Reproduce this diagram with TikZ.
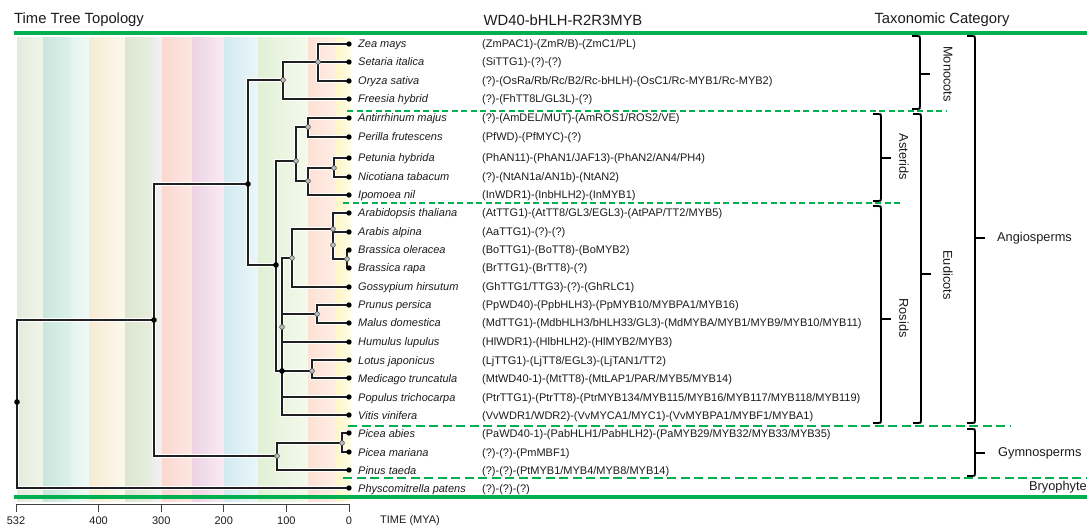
\documentclass[tikz,border=0pt]{standalone}
\usepackage{fontspec}
\setmainfont{Liberation Sans}
\definecolor{gr}{RGB}{0,176,80}
\definecolor{txt}{RGB}{28,28,28}
\definecolor{s1a}{HTML}{E4EADB}\definecolor{s1b}{HTML}{F1F5EA}
\definecolor{s2a}{HTML}{C8E6DC}\definecolor{s2b}{HTML}{DDF1EA}
\definecolor{s3a}{HTML}{E2F4EE}\definecolor{s3b}{HTML}{F0FAF6}
\definecolor{s4a}{HTML}{F6EBD3}\definecolor{s4b}{HTML}{FBF8EC}
\definecolor{s5a}{HTML}{DCE5D2}\definecolor{s5b}{HTML}{E8EEDF}
\definecolor{s6a}{HTML}{ECEDEA}\definecolor{s6b}{HTML}{F2F2F0}
\definecolor{s7a}{HTML}{FCD7D0}\definecolor{s7b}{HTML}{FDE7E2}
\definecolor{s8a}{HTML}{EDD3E3}\definecolor{s8b}{HTML}{F8EBF3}
\definecolor{s9a}{HTML}{D3EAF0}\definecolor{s9b}{HTML}{EBF6F9}
\definecolor{s10a}{HTML}{E1F0D5}\definecolor{s10b}{HTML}{ECF6E3}
\definecolor{s11a}{HTML}{EBF5E2}\definecolor{s11b}{HTML}{F4FAEC}
\definecolor{s12a}{HTML}{FDE1D4}\definecolor{s12b}{HTML}{FEEDE4}
\definecolor{s13a}{HTML}{FCF6C6}\definecolor{s13b}{HTML}{FEFADD}
\definecolor{s14a}{HTML}{FEFDE8}
\newcommand\taxrow[4]{%
  \coordinate (t#1) at (349,#2);
  \node[sp] (s#1) at (358,#2+4) {#3};
  \node[gn] (g#1) at (482,#2+4) {#4};}
\newcommand\tbrace[4]{%
  \draw[brc] (#1-8,#2) -- (#1-3,#2) .. controls (#1,#2) .. (#1,#2+3) -- (#1,#3-3) .. controls (#1,#3) .. (#1-3,#3) -- (#1-8,#3);
  \draw[brc] (#1,#4) -- (#1+10,#4);}
\newcommand\TreeLines{%
  \draw[br] (r0) |- (S);
  \draw[br] (r0) |- (t25);
  \draw[br] (S) |- (A);
  \draw[br] (S) |- (G);
  \draw[br] (A) |- (M1);
  \draw[br] (A) |- (E);
  \draw[br] (M1) |- (M2);
  \draw[br] (M1) |- (t4);
  \draw[br] (M2) |- (t1);
  \draw[br] (M2) |- (t2);
  \draw[br] (M2) |- (t3);
  \draw[br] (E) |- (As);
  \draw[br] (E) |- (R);
  \draw[br] (As) |- (As1);
  \draw[br] (As) |- (As2);
  \draw[br] (As1) |- (t5);
  \draw[br] (As1) |- (t6);
  \draw[br] (As2) |- (As3);
  \draw[br] (As2) |- (t9);
  \draw[br] (As3) |- (t7);
  \draw[br] (As3) |- (t8);
  \draw[br] (R) |- (Mv);
  \draw[br] (R) |- (Fab);
  \draw[br] (R) |- (LM);
  \draw[br] (R) |- (t20);
  \draw[br] (R) |- (t21);
  \draw[br] (Mv) |- (Br);
  \draw[br] (Mv) |- (t14);
  \draw[br] (Br) |- (t10);
  \draw[br] (Br) |- (t11);
  \draw[br] (Br) |- (Br3);
  \draw[br] (Br3) |- (t12);
  \draw[br] (Br3) |- (t13);
  \draw[br] (Fab) |- (PM);
  \draw[br] (Fab) |- (t17);
  \draw[br] (PM) |- (t15);
  \draw[br] (PM) |- (t16);
  \draw[br] (LM) |- (t18);
  \draw[br] (LM) |- (t19);
  \draw[br] (G) |- (Pc);
  \draw[br] (G) |- (t24);
  \draw[br] (Pc) |- (t22);
  \draw[br] (Pc) |- (t23);}
\begin{document}
\begin{tikzpicture}[x=1pt,y=-1pt,
  sp/.style={anchor=base west,inner sep=0pt,font=\fontsize{11}{13}\selectfont\itshape,text=txt},
  gn/.style={anchor=base west,inner sep=0pt,font=\fontsize{11}{13}\selectfont,text=txt},
  hdr/.style={inner sep=0pt,font=\fontsize{14.8}{17}\selectfont,text=txt},
  cat/.style={inner sep=0pt,font=\fontsize{12.8}{15}\selectfont,text=txt},
  axl/.style={inner sep=0pt,font=\fontsize{11}{13}\selectfont,text=txt},
  brc/.style={line width=1.8pt,black,line join=round},
  grn/.style={gr,line width=3.2pt},
  dsA/.style={gr,line width=2pt,dash pattern=on 6pt off 3.5pt},
  dsB/.style={gr,line width=2.7pt,dash pattern=on 9pt off 4.5pt},
  tickst/.style={black!75,line width=0.9pt}]
\useasboundingbox (0,0) rectangle (1090,529);
\fill[white] (0,0) rectangle (1090,529);
% geological stripes
\shade[left color=s1a,right color=s1b] (17,38) rectangle (43,501);
\shade[left color=s2a,right color=s2b] (43,38) rectangle (71,501);
\shade[left color=s3a,right color=s3b] (71,38) rectangle (89,501);
\shade[left color=s4a,right color=s4b] (89,38) rectangle (125,501);
\shade[left color=s5a,right color=s5b] (125,38) rectangle (152,501);
\shade[left color=s6a,right color=s6b] (152,38) rectangle (162,501);
\shade[left color=s7a,right color=s7b] (162,38) rectangle (192,501);
\shade[left color=s8a,right color=s8b] (192,38) rectangle (224,501);
\shade[left color=s9a,right color=s9b] (224,38) rectangle (258,501);
\shade[left color=s10a,right color=s10b] (258,38) rectangle (286,501);
\shade[left color=s11a,right color=s11b] (286,38) rectangle (308,501);
\shade[left color=s12a,right color=s12b] (308,38) rectangle (335,501);
\shade[left color=s13a,right color=s13b] (335,38) rectangle (347,501);
\fill[s14a] (347,38) rectangle (351,501);
% headers
\node[hdr,anchor=west] (h1) at (14,20) {Time Tree Topology};
\node[hdr] (h2) at (563,20) {WD40-bHLH-R2R3MYB};
\node[hdr] (h3) at (942,20) {Taxonomic Category};
\draw[grn] (14,33) -- (1087,33);
\draw[grn] (14,497) -- (1087,497);
% rows
\taxrow{1}{44}{Zea mays}{(ZmPAC1)-(ZmR/B)-(ZmC1/PL)}
\taxrow{2}{62}{Setaria italica}{(SiTTG1)-(?)-(?)}
\taxrow{3}{81}{Oryza sativa}{(?)-(OsRa/Rb/Rc/B2/Rc-bHLH)-(OsC1/Rc-MYB1/Rc-MYB2)}
\taxrow{4}{99}{Freesia hybrid}{(?)-(FhTT8L/GL3L)-(?)}
\taxrow{5}{118}{Antirrhinum majus}{(?)-(AmDEL/MUT)-(AmROS1/ROS2/VE)}
\taxrow{6}{137}{Perilla frutescens}{(PfWD)-(PfMYC)-(?)}
\taxrow{7}{158}{Petunia hybrida}{(PhAN11)-(PhAN1/JAF13)-(PhAN2/AN4/PH4)}
\taxrow{8}{177}{Nicotiana tabacum}{(?)-(NtAN1a/AN1b)-(NtAN2)}
\taxrow{9}{195}{Ipomoea nil}{(InWDR1)-(InbHLH2)-(InMYB1)}
\taxrow{10}{213}{Arabidopsis thaliana}{(AtTTG1)-(AtTT8/GL3/EGL3)-(AtPAP/TT2/MYB5)}
\taxrow{11}{232}{Arabis alpina}{(AaTTG1)-(?)-(?)}
\taxrow{12}{250}{Brassica oleracea}{(BoTTG1)-(BoTT8)-(BoMYB2)}
\taxrow{13}{268}{Brassica rapa}{(BrTTG1)-(BrTT8)-(?)}
\taxrow{14}{287}{Gossypium hirsutum}{(GhTTG1/TTG3)-(?)-(GhRLC1)}
\taxrow{15}{305}{Prunus persica}{(PpWD40)-(PpbHLH3)-(PpMYB10/MYBPA1/MYB16)}
\taxrow{16}{323}{Malus domestica}{(MdTTG1)-(MdbHLH3/bHLH33/GL3)-(MdMYBA/MYB1/MYB9/MYB10/MYB11)}
\taxrow{17}{342}{Humulus lupulus}{(HlWDR1)-(HlbHLH2)-(HlMYB2/MYB3)}
\taxrow{18}{360}{Lotus japonicus}{(LjTTG1)-(LjTT8/EGL3)-(LjTAN1/TT2)}
\taxrow{19}{378}{Medicago truncatula}{(MtWD40-1)-(MtTT8)-(MtLAP1/PAR/MYB5/MYB14)}
\taxrow{20}{397}{Populus trichocarpa}{(PtrTTG1)-(PtrTT8)-(PtrMYB134/MYB115/MYB16/MYB117/MYB118/MYB119)}
\taxrow{21}{415}{Vitis vinifera}{(VvWDR1/WDR2)-(VvMYCA1/MYC1)-(VvMYBPA1/MYBF1/MYBA1)}
\taxrow{22}{433}{Picea abies}{(PaWD40-1)-(PabHLH1/PabHLH2)-(PaMYB29/MYB32/MYB33/MYB35)}
\taxrow{23}{452}{Picea mariana}{(?)-(?)-(PmMBF1)}
\taxrow{24}{470}{Pinus taeda}{(?)-(?)-(PtMYB1/MYB4/MYB8/MYB14)}
\taxrow{25}{488}{Physcomitrella patens}{(?)-(?)-(?)}
% internal nodes
\coordinate (r0) at (17,402);
\coordinate (S) at (154,320);
\coordinate (A) at (248,184);
\coordinate (M1) at (283,80);
\coordinate (M2) at (318,62);
\coordinate (E) at (276,265);
\coordinate (As) at (296,161);
\coordinate (As1) at (308,127);
\coordinate (As2) at (308,181);
\coordinate (As3) at (334,168);
\coordinate (R) at (282,371);
\coordinate (Mv) at (292,258);
\coordinate (Br) at (333,229);
\coordinate (Br2) at (333,245);
\coordinate (Br3) at (347,259);
\coordinate (Fab) at (282,327);
\coordinate (PM) at (317,314);
\coordinate (LM) at (312,371);
\coordinate (G) at (277,456);
\coordinate (Pc) at (342,443);
% tree: halo then lines
\begin{scope}[br/.style={white,line width=4.5pt}]
\TreeLines
\end{scope}
\begin{scope}[br/.style={black!88,line width=1.6pt}]
\TreeLines
\end{scope}
\foreach \k in {1,...,25} {\fill[black] (t\k) circle (2.7);}
\foreach \n in {r0,S,A,E,R} {\fill[black] (\n) circle (2.8);}
\foreach \n in {M1,M2,As,As1,As2,As3,Mv,Br,Br2,Br3,Fab,PM,LM,G,Pc} {\filldraw[fill=gray!50,draw=black!70,line width=0.6pt] (\n) circle (2.4);}
% dashed separators
\draw[dsA] (347,111) -- (947,111);
\draw[dsA] (343,203) -- (902,203);
\draw[dsB] (348,426) -- (1010,426);
\draw[dsB] (343,478) -- (1087,478);
% braces
\tbrace{920}{36}{109}{74}
\tbrace{881}{114}{201}{158}
\tbrace{881}{206}{423}{319}
\tbrace{921}{114}{423}{274}
\tbrace{975}{36}{423}{238}
\tbrace{975}{429}{476}{453}
\node[cat,rotate=-90] (cMono) at (948,74) {Monocots};
\node[cat,rotate=-90] (cAst) at (904,157) {Asterids};
\node[cat,rotate=-90] (cRos) at (904,318) {Rosids};
\node[cat,rotate=-90] (cEud) at (948,275) {Eudicots};
\node[cat,anchor=west] (cAng) at (997,238) {Angiosperms};
\node[cat,anchor=west] (cGym) at (998,453) {Gymnosperms};
\node[cat,anchor=east] (cBry) at (1087,487) {Bryophyte};
% axis
\draw[tickst] (16,504) -- (349,504);
\foreach \v/\nm in {532/a,400/b,300/c,200/d,100/e,0/f} {
  \draw[tickst] ({349-0.626*\v},504) -- ({349-0.626*\v},512);
  \node[axl] (ax\nm) at ({349-0.626*\v},521) {\v};
}
\node[axl,anchor=west] (axt) at (380,521) {TIME (MYA)};
\end{tikzpicture}
\end{document}
